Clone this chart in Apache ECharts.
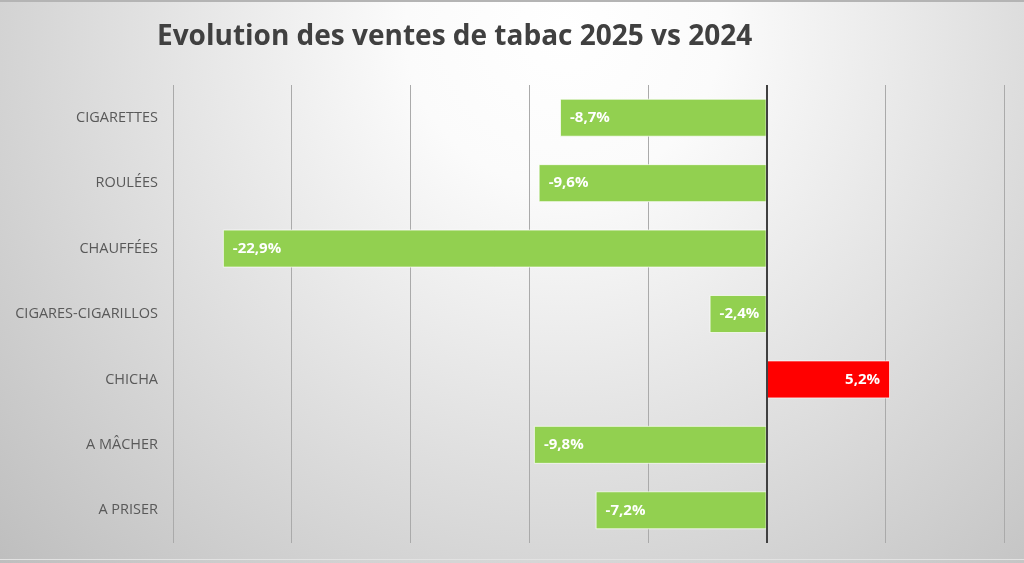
<!DOCTYPE html>
<html>
<head>
<meta charset="utf-8">
<script src="https://cdn.jsdelivr.net/npm/echarts@6/dist/echarts.min.js"></script>
<style>html,body{margin:0;padding:0;}#c{width:1024px;height:563px;}</style>
</head>
<body>
<div id="c"></div>
<script>
const categories = ['CIGARETTES', 'ROULÉES', 'CHAUFFÉES', 'CIGARES-CIGARILLOS', 'CHICHA', 'A MÂCHER', 'A PRISER'];
const values = [-8.7, -9.6, -22.9, -2.4, 5.2, -9.8, -7.2];
const titleText = 'Evolution des ventes de tabac 2025 vs 2024';

const chart = echarts.init(document.getElementById('c'));
chart.setOption({
  animation: false,
  backgroundColor: {
    type: 'radial', x: 0.55, y: 0.05, r: 1.4,
    colorStops: [
      { offset: 0, color: '#ffffff' },
      { offset: 0.2, color: '#fbfbfb' },
      { offset: 1, color: '#bdbdbd' }
    ]
  },
  graphic: [
    { type: 'rect', left: 0, top: 0, shape: { width: 1024, height: 2 }, style: { fill: '#b4b4b4' }, silent: true },
    { type: 'rect', left: 0, top: 559, shape: { width: 1024, height: 1 }, style: { fill: '#e2e2e2' }, silent: true }
  ],
  title: {
    text: titleText,
    left: 152, top: 18,
    textStyle: { fontFamily: 'Open Sans, sans-serif', fontWeight: 'bold', fontSize: 28, color: '#404040' }
  },
  grid: { left: 173, right: 20, top: 85, bottom: 20, containLabel: false },
  xAxis: {
    type: 'value', min: -25, max: 10, interval: 5,
    axisLabel: { show: false }, axisTick: { show: false }, axisLine: { show: false },
    splitLine: { show: true, lineStyle: { color: '#aaaaaa', width: 1 } }
  },
  yAxis: {
    type: 'category', data: categories, inverse: true,
    axisLine: { show: false }, axisTick: { show: false },
    axisLabel: { margin: 15, fontFamily: 'Open Sans, sans-serif', fontSize: 14.5, color: '#595959' }
  },
  series: [{
    type: 'bar',
    barWidth: 38,
    data: values.map(v => ({
      value: v,
      itemStyle: { color: v < 0 ? '#92D050' : '#FF0000' },
      label: { position: v < 0 ? 'insideLeft' : 'insideRight' }
    })),
    itemStyle: { borderColor: 'rgba(255,255,255,0.7)', borderWidth: 1 },
    label: {
      show: true, distance: 10,
      formatter: p => p.value.toFixed(1).replace('.', ',') + '%',
      fontFamily: 'Open Sans, sans-serif', fontWeight: 'bold', fontSize: 15, color: '#ffffff'
    },
    markLine: {
      silent: true, symbol: 'none', label: { show: false },
      lineStyle: { color: '#404040', width: 2, type: 'solid' },
      data: [{ xAxis: 0 }]
    }
  }]
});
</script>
</body>
</html>
